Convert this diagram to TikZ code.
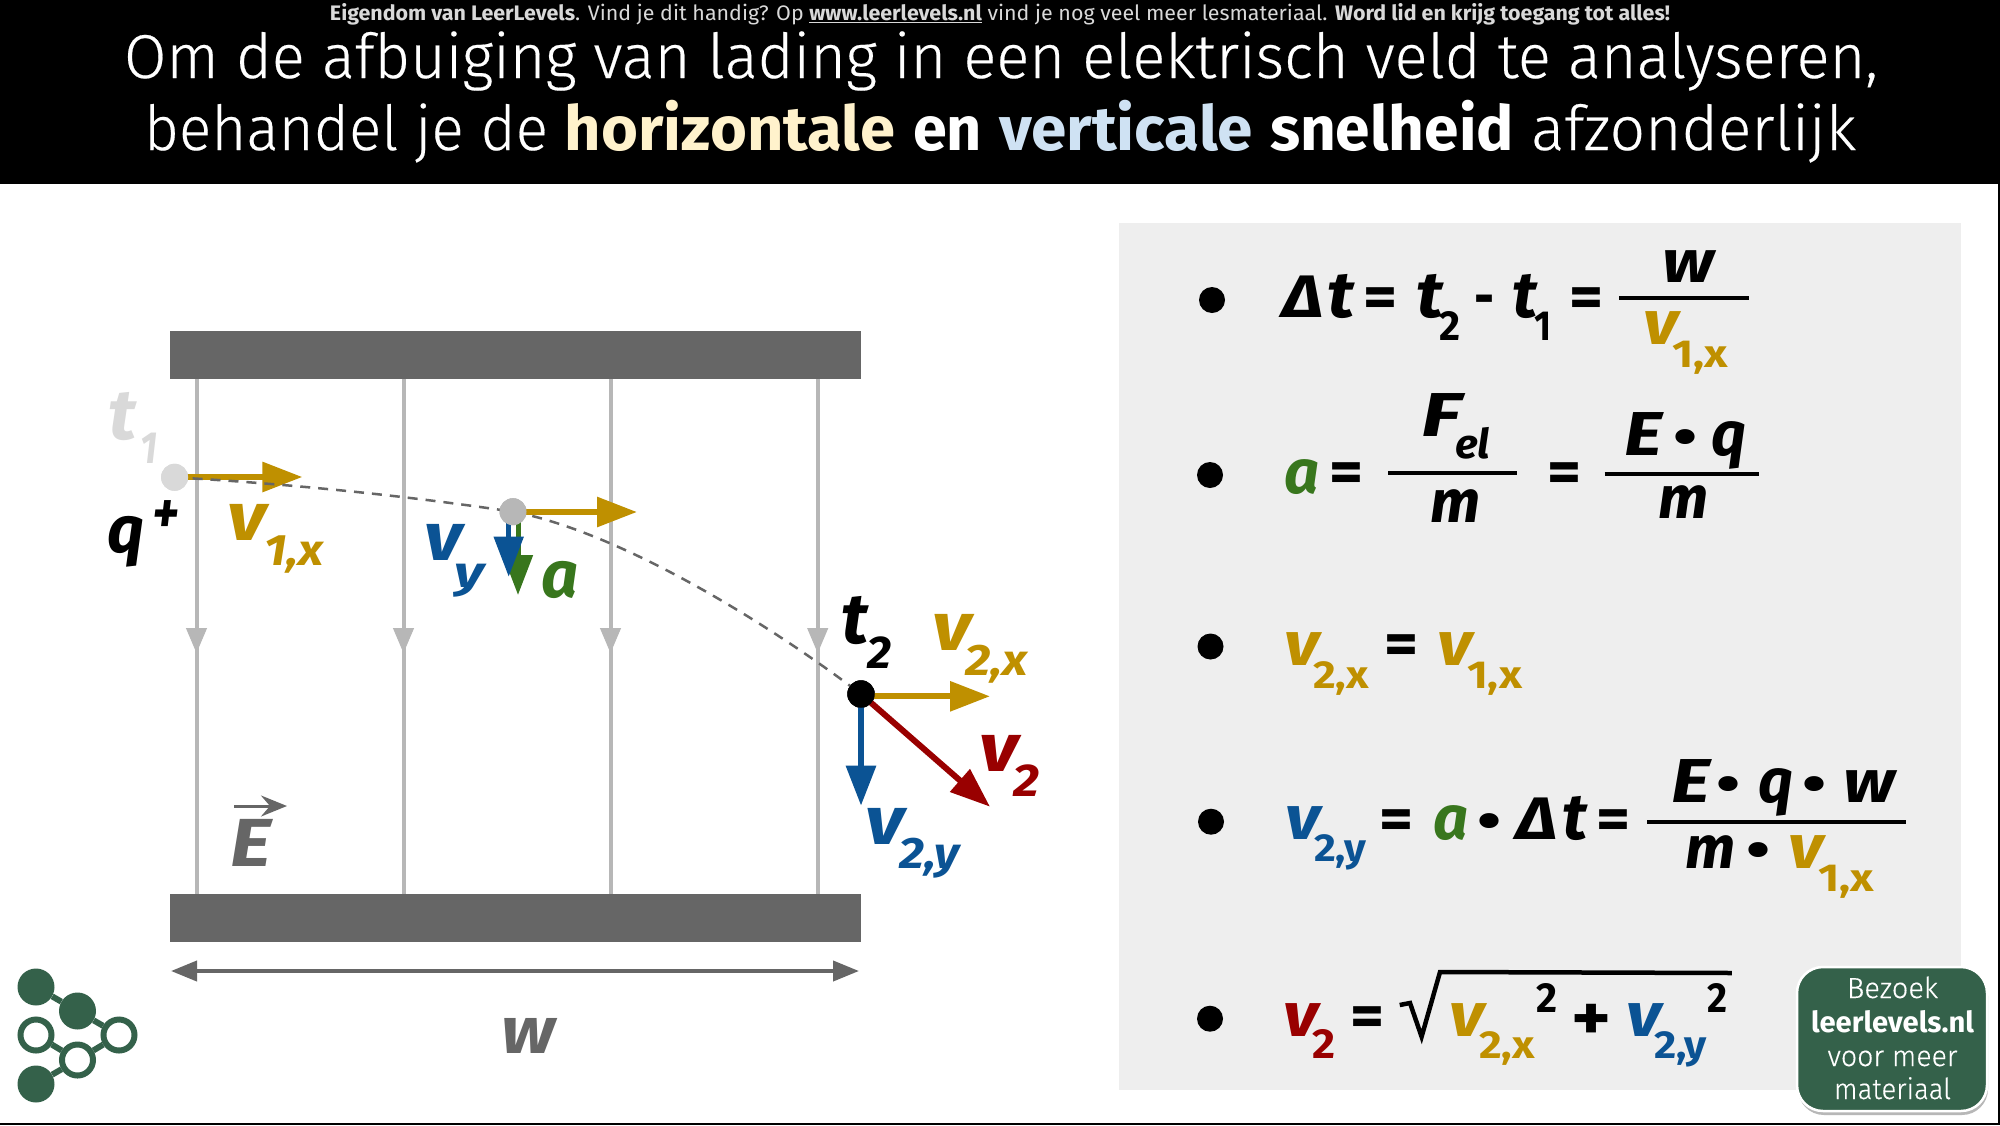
\documentclass[tikz,border=0pt]{standalone}
\usepackage{fontspec}
\usepackage{graphicx}
\setmainfont{Fira Sans}
\newfontfamily\lightf[FakeBold=0.3]{Fira Sans Light}
\usetikzlibrary{arrows.meta,shapes.geometric}
\definecolor{gold}{HTML}{BF9000}
\definecolor{vblue}{HTML}{0B5394}
\definecolor{vgreen}{HTML}{38761D}
\definecolor{vred}{HTML}{990000}
\definecolor{dgray}{HTML}{666666}
\definecolor{lgray}{HTML}{B7B7B7}
\definecolor{pale}{HTML}{D9D9D9}
\definecolor{panel}{HTML}{EEEEEE}
\definecolor{brand}{HTML}{34614A}
\definecolor{hcream}{HTML}{FFF2CC}
\definecolor{hblue}{HTML}{CFE2F3}
\tikzset{
  lbl/.style={anchor=base west,inner sep=0pt,outer sep=0pt},
  dotnode/.style={circle,fill=#1,draw=none,inner sep=0pt},
  plate/.style={rectangle,fill=dgray,draw=none,inner sep=0pt,minimum width=691pt,minimum height=48pt,anchor=north west},
  fieldline/.style={draw=lgray,line width=4pt},
  fieldtip/.style={fill=lgray,-{Triangle[length=25pt,width=21pt]}},
  vec/.style={line width=6pt,-{Triangle[length=40pt,width=29pt]}},
  smallvec/.style={line width=5pt,-{Triangle[length=40pt,width=29pt]}},
  fracline/.style={line width=4.5pt,draw=black},
  lognode/.style={circle,inner sep=0pt,minimum size=31pt,draw=brand,line width=6pt,fill=white},
  logfull/.style={circle,inner sep=0pt,minimum size=37pt,fill=brand},
  logline/.style={draw=brand,line width=6pt},
}
% name x y(baseline) size width colour text
\newcommand\lb[7]{\node[lbl,text=#6] (#1) at (#2,#3) {\fontsize{#4}{#4}\selectfont\bfseries\itshape\resizebox{#5pt}{\height}{#7}};}
\newcommand\up{\upshape}
\newcommand\fitw[2]{\resizebox{#1pt}{\height}{#2}}
\begin{document}
\begin{tikzpicture}[x=1pt,y=-1pt]
\useasboundingbox (0,0) rectangle (2000,1125);
\fill[white] (0,0) rectangle (2000,1125);
\fill[black] (0,1123) rectangle (2000,1125);
\fill[black] (1998,184) rectangle (2000,1125);
% header
\fill[black] (0,0) rectangle (2000,184);
\node[anchor=base,inner sep=0pt,text=pale] (src) at (1000,20.5) {\fontsize{21}{21}\selectfont\resizebox{1340pt}{\height}{\textbf{Eigendom van LeerLevels}. Vind je dit handig? Op \textbf{\underline{www.leerlevels.nl}} vind je nog veel meer lesmateriaal. \textbf{Word lid en krijg toegang tot alles!}}};
\node[anchor=base,inner sep=0pt,text=white] (title1) at (1001,78) {\fontsize{62}{62}\selectfont\lightf\fitw{1754}{Om de afbuiging van lading in een elektrisch veld te analyseren,}};
\node[anchor=base,inner sep=0pt,text=white] (title2) at (1000,150) {\fontsize{62}{62}\selectfont\fitw{404}{\lightf behandel je de}\hspace{17pt}\bfseries\fitw{330}{\textcolor{hcream}{horizontale}}\hspace{18pt}\fitw{69}{en}\hspace{17pt}\fitw{254}{\textcolor{hblue}{verticale}}\hspace{17pt}\fitw{244}{snelheid}\hspace{17pt}\fitw{325}{\lightf\mdseries afzonderlijk}};
% plates
\node[plate] (ptop) at (169.5,331) {};
\node[plate] (pbot) at (169.5,894) {};
% field lines
\foreach \n/\fx in {a/196.5,b/403.5,c/610.5,d/817.7}{
  \coordinate (\n1) at (\fx,379);
  \coordinate (\n2) at (\fx,653);
  \coordinate (\n3) at (\fx,894);
  \draw[fieldline] (\n1) -- (\n3);
  \draw[fieldline,fieldtip,line width=1pt] (\n1) -- (\n2);
}
% charges (placed first so connectors can refer to them)
\node[dotnode=pale,minimum size=27pt] (qa) at (174.6,477.3) {};
\node[dotnode=lgray,minimum size=27pt] (qb) at (513,511.7) {};
\node[dotnode=black,minimum size=27.5pt] (qc) at (861,694) {};
% velocity arrows
\coordinate (v1tip) at (302.4,477);
\coordinate (v1s) at (175,477);
\draw[vec,gold] (v1s) -- (v1tip);
\coordinate (v1bs) at (513,512);
\coordinate (v1btip) at (637,512);
\draw[vec,gold] (v1bs) -- (v1btip);
\coordinate (as) at (518,512);
\coordinate (atip) at (518,595);
\draw[smallvec,vgreen] (as) -- (atip);
\coordinate (vys) at (508.7,512);
\coordinate (vytip) at (508.7,576.7);
\draw[smallvec,vblue] (vys) -- (vytip);
\coordinate (v2xs) at (861,696.3);
\coordinate (v2xtip) at (990,696.3);
\draw[vec,gold] (v2xs) -- (v2xtip);
\coordinate (v2ytip) at (861,805.7);
\draw[vec,vblue] (qc.center) -- (v2ytip);
\coordinate (v2tip) at (990,806.7);
\draw[vec,vred] (qc.center) -- (v2tip);
% trajectory
\draw[dgray,line width=2.5pt,dash pattern=on 10pt off 8pt] (qa.center) .. controls (290,484) and (400,495) .. (qb.center) .. controls (610,530) and (750,610) .. (qc.center);
\node[dotnode=pale,minimum size=27pt] (qa2) at (qa) {};
\node[dotnode=lgray,minimum size=27pt] (qb2) at (qb) {};
\node[dotnode=black,minimum size=27.5pt] (qc2) at (qc) {};
% left labels
\lb{tone}{108}{439}{71}{28}{pale}{t}
\lb{toneS}{140}{463}{45}{17}{pale}{1}
\lb{qq}{107}{552}{66}{37}{black}{q}
\lb{qp}{152}{533}{60}{27}{black}{+}
\lb{vone}{227}{540}{68}{39}{gold}{v}
\lb{voneS}{264}{565}{44}{60}{gold}{1,x}
\lb{vyl}{424}{560}{68}{38}{vblue}{v}
\lb{vyS}{454}{587}{44}{30}{vblue}{y}
\lb{acc}{541}{597}{66}{37}{vgreen}{a}
\lb{ttwo}{841}{643}{71}{27}{black}{t}
\lb{ttwoS}{867}{668}{46}{24}{black}{2}
\lb{vtx}{932}{650}{68}{39}{gold}{v}
\lb{vtxS}{965}{675}{44}{63}{gold}{2,x}
\lb{vtw}{979}{771}{68}{39}{vred}{v}
\lb{vtwS}{1013}{796}{46}{26}{vred}{2}
\lb{vty}{865}{844}{68}{39}{vblue}{v}
\lb{vtyS}{899}{868}{44}{60}{vblue}{2,y}
\lb{efield}{230}{866}{68}{41}{dgray}{E}
\coordinate (es) at (234,806);
\coordinate (et) at (287,806);
\draw[dgray,line width=3pt,-{Stealth[length=26pt,width=21pt,inset=9pt]}] (es) -- (et);
\coordinate (wl) at (171,971);
\coordinate (wr) at (859,971);
\draw[dgray,line width=4pt,{Triangle[length=26pt,width=20pt]}-{Triangle[length=26pt,width=20pt]}] (wl) -- (wr);
\lb{wlab}{501}{1053}{66}{54}{dgray}{w}
% logo
\node[logfull] (l1) at (36,987) {};
\node[logfull] (l2) at (77.5,1011) {};
\node[lognode] (l3) at (36,1035) {};
\node[lognode] (l4) at (119,1035) {};
\node[lognode] (l5) at (77.5,1060) {};
\node[logfull] (l6) at (36,1084) {};
\draw[logline] (l1) -- (l2);
\draw[logline] (l2) -- (l4);
\draw[logline] (l3) -- (l5);
\draw[logline] (l5) -- (l4);
\draw[logline] (l5) -- (l6);
% panel
\fill[panel] (1118.6,223) rectangle (1960.6,1090);
\node[dotnode=black,minimum size=26pt] (b1) at (1212,300) {};
\node[dotnode=black,minimum size=26pt] (b2) at (1210,475) {};
\node[dotnode=black,minimum size=26pt] (b3) at (1210.5,646.5) {};
\node[dotnode=black,minimum size=26pt] (b4) at (1211,821.7) {};
\node[dotnode=black,minimum size=26pt] (b5) at (1210,1018.7) {};
% formula 1
\lb{fa}{1282}{317}{60}{41}{black}{Δ}
\lb{fb}{1327}{317}{65}{27}{black}{t}
\lb{fc}{1363}{317}{60}{34}{black}{\up =}
\lb{fd}{1416}{317}{65}{27}{black}{t}
\lb{fe}{1439}{340}{42}{21}{black}{\up 2}
\lb{ff}{1474}{317}{60}{20}{black}{\up -}
\lb{fg}{1512}{317}{65}{25}{black}{t}
\lb{fh}{1534}{340}{42}{17}{black}{\up 1}
\lb{fi}{1569}{317}{60}{34}{black}{\up =}
\draw[fracline] (1619,298) -- (1749,298);
\lb{fj}{1662}{282}{60}{52}{black}{w}
\lb{fk}{1643}{344}{62}{35}{gold}{v}
\lb{fl}{1672}{367}{39}{56}{gold}{\up 1,x}
% formula 2
\lb{ga}{1284}{493}{62}{35}{vgreen}{a}
\lb{gb}{1329}{492}{60}{34}{black}{\up =}
\draw[fracline] (1388,473) -- (1517,473);
\lb{gc}{1421}{436}{62}{40}{black}{F}
\lb{gd}{1455}{458}{41}{35}{black}{el}
\lb{ge}{1430}{522.7}{60}{50}{black}{m}
\lb{gf}{1547}{492}{60}{34}{black}{\up =}
\draw[fracline] (1604.5,474) -- (1759,474);
\lb{gg}{1624}{455}{62}{38}{black}{E}
\lb{gh}{1673.5}{455}{54}{24}{black}{\up •}
\lb{gi}{1711}{455}{62}{35}{black}{q}
\lb{gj}{1658.6}{518}{60}{50}{black}{m}
% formula 3
\lb{ha}{1284}{665}{62}{35}{gold}{v}
\lb{hb}{1313}{688}{39}{56}{gold}{\up 2,x}
\lb{hc}{1384}{664}{60}{34}{black}{\up =}
\lb{hd}{1437}{665}{62}{35}{gold}{v}
\lb{he}{1467}{688}{39}{55}{gold}{\up 1,x}
% formula 4
\lb{ia}{1285}{839}{62}{35}{vblue}{v}
\lb{ib}{1314}{861.7}{39}{52}{vblue}{\up 2,y}
\lb{ic}{1379}{839}{60}{34}{black}{\up =}
\lb{id}{1433}{839}{62}{35}{vgreen}{a}
\lb{ie}{1477.5}{839}{54}{24}{black}{\up •}
\lb{if}{1516}{839}{60}{41}{black}{Δ}
\lb{ig}{1562}{839}{65}{25}{black}{t}
\lb{ih}{1596}{839}{60}{34}{black}{\up =}
\draw[fracline] (1647,822) -- (1906,822);
\lb{ii}{1671}{802.7}{62}{39}{black}{E}
\lb{ij}{1716.5}{802.7}{54}{24}{black}{\up •}
\lb{ik}{1758.5}{802.7}{62}{35}{black}{q}
\lb{il}{1802.5}{802.7}{54}{24}{black}{\up •}
\lb{im}{1843}{802.7}{60}{52}{black}{w}
\lb{in}{1685}{868}{60}{50}{black}{m}
\lb{io}{1746.5}{868}{54}{24}{black}{\up •}
\lb{ip}{1788}{868}{62}{35}{gold}{v}
\lb{iq}{1818}{891}{39}{56}{gold}{\up 1,x}
% formula 5
\lb{ja}{1283.6}{1036}{62}{35}{vred}{v}
\lb{jb}{1312}{1058}{42}{23}{vred}{\up 2}
\lb{jc}{1350}{1036}{60}{34}{black}{\up =}
\draw[black,line width=4.5pt,line join=miter] (1399.7,1005) -- (1410,1003) -- (1421.6,1036.7) -- (1440,972) -- (1731.8,973);
\lb{jd}{1449}{1036}{62}{35}{gold}{v}
\lb{je}{1479}{1058}{39}{56}{gold}{\up 2,x}
\lb{jf}{1536}{1012.7}{42}{21}{black}{\up 2}
\lb{jg}{1571}{1040}{66}{40}{black}{\up +}
\lb{jh}{1626}{1036}{62}{35}{vblue}{v}
\lb{ji}{1654}{1058}{39}{53}{vblue}{\up 2,y}
\lb{jj}{1707}{1012.7}{42}{20}{black}{\up 2}
% button
\fill[lgray] (1798,970) [rounded corners=26pt] rectangle (1988,1115);
\draw[white,line width=2.5pt,fill=brand,rounded corners=26pt] (1797,967) rectangle (1987,1111);
\node[lbl,text=white] (ba) at (1847,998) {\fontsize{29}{29}\selectfont\lightf\fitw{91}{Bezoek}};
\node[lbl,text=white] (bb) at (1811,1032) {\fontsize{29}{29}\selectfont\bfseries\fitw{163}{leerlevels.nl}};
\node[lbl,text=white] (bc) at (1827.5,1066) {\fontsize{29}{29}\selectfont\lightf\fitw{130}{voor meer}};
\node[lbl,text=white] (bd) at (1834,1099) {\fontsize{29}{29}\selectfont\lightf\fitw{117}{materiaal}};
\end{tikzpicture}
\end{document}
